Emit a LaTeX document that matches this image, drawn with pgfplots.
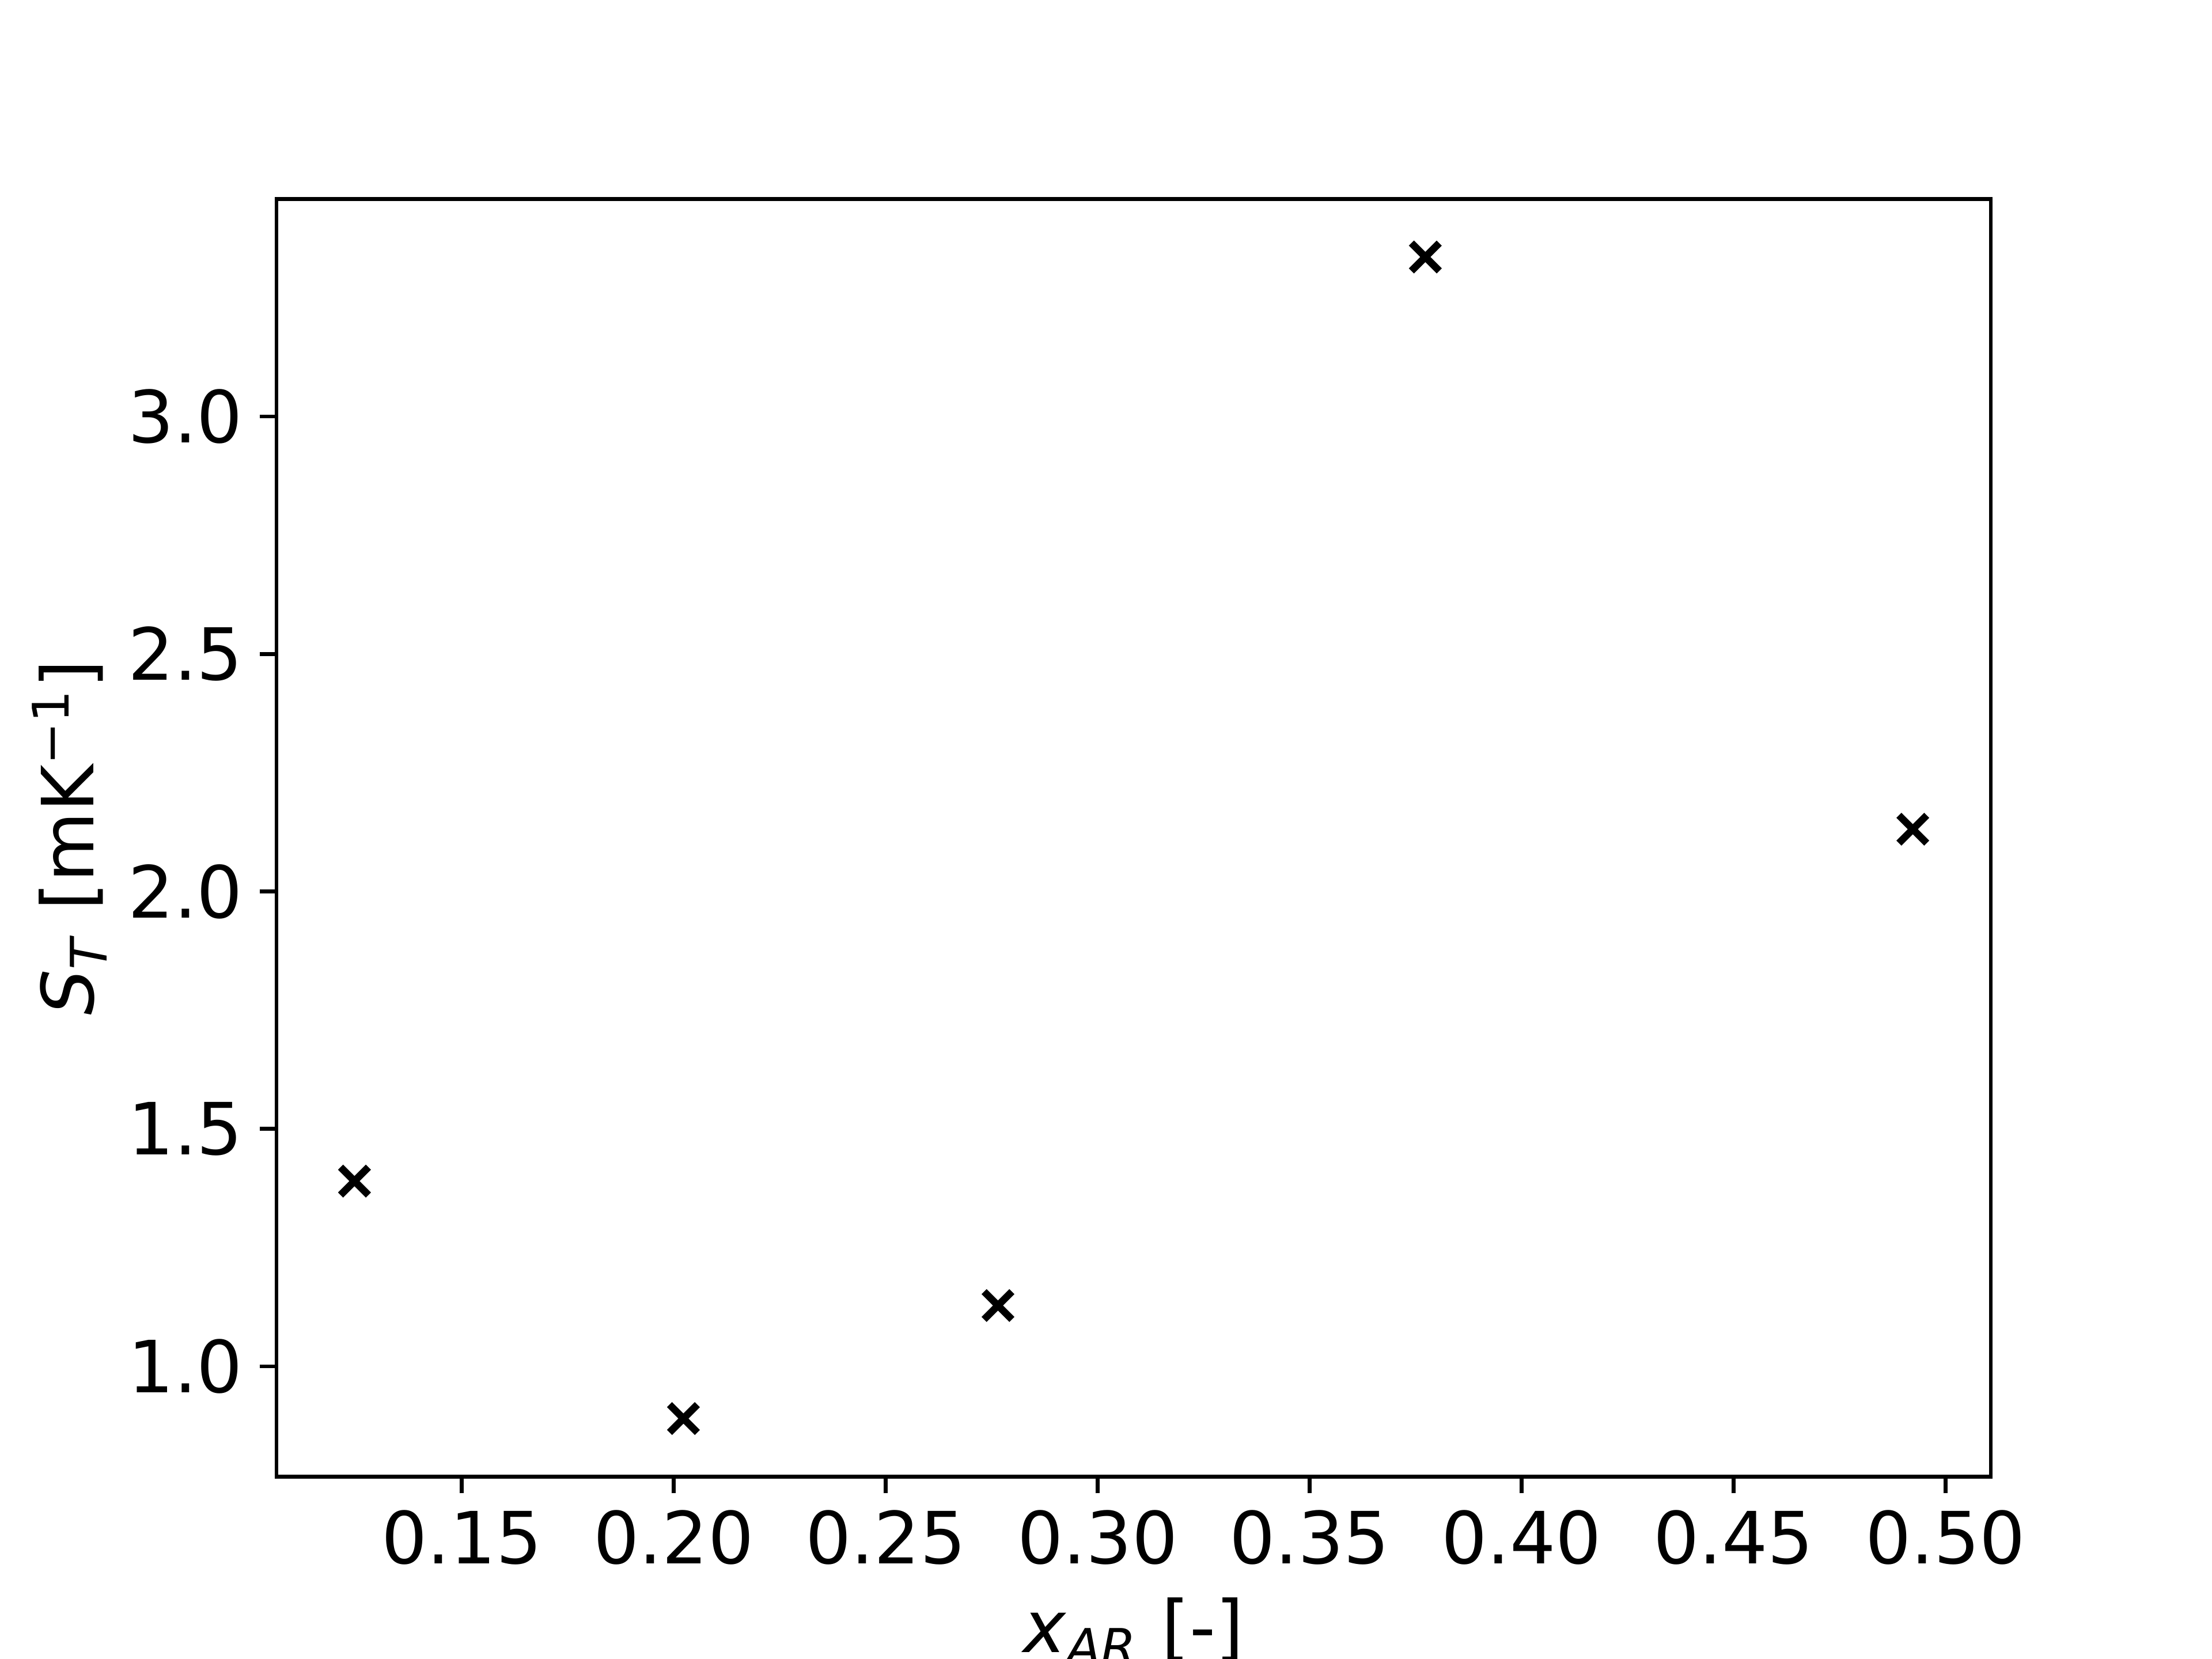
\documentclass[border=0pt]{standalone}
\usepackage{fontspec}
\setmainfont{DejaVu Sans}
\usepackage{pgfplots}
\pgfplotsset{compat=1.18}

\begin{document}
\begin{tikzpicture}
    % page = 6.4in x 4.8in, axis box as in matplotlib's default subplot
    \useasboundingbox (-57.6pt,-38.02pt) rectangle (403.2pt,307.58pt);
    \begin{axis}[
        at={(0pt,0pt)}, anchor=south west,
        scale only axis,
        width=357.12pt, height=266.11pt,
        xmin=0.1063, xmax=0.5107,
        ymin=0.768, ymax=3.458,
        xtick={0.15,0.20,0.25,0.30,0.35,0.40,0.45,0.50},
        ytick={1.0,1.5,2.0,2.5,3.0},
        xticklabel style={/pgf/number format/.cd, fixed, fixed zerofill, precision=2},
        yticklabel style={/pgf/number format/.cd, fixed, fixed zerofill, precision=1},
        /pgf/number format/assume math mode=true,
        tick label style={font=\fontsize{15}{18}\selectfont},
        label style={font=\fontsize{15}{18}\selectfont},
        xlabel={\textit{x}\textsubscript{\textit{AR}} [-]},
        ylabel={\textit{S}\textsubscript{\textit{T}} [mK\textsuperscript{−1}]},
        ylabel style={yshift=-2.4pt},
        tick align=outside,
        xtick pos=left, ytick pos=left,
        major tick length=3.5pt,
        every tick/.style={black, line width=0.8pt},
        axis line style={line width=0.8pt},
    ]
    \addplot[only marks, mark=x, mark size=4.1pt, line width=1.5pt, black]
        coordinates {(0.1247,1.390) (0.2023,0.890) (0.2765,1.128)
            (0.3773,3.336) (0.4923,2.131)};
    \end{axis}
\end{tikzpicture}
\end{document}
